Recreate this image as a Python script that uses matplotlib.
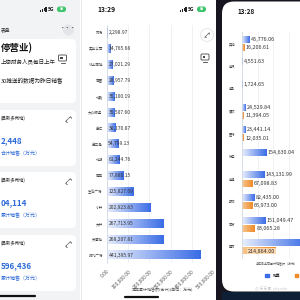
import numpy as np
import matplotlib
matplotlib.use("Agg")
import matplotlib.pyplot as plt
from matplotlib.patches import Rectangle, FancyBboxPatch, Circle, Patch
from matplotlib.colors import LinearSegmentedColormap

plt.rcParams['font.family'] = ['Noto Sans CJK SC', 'DejaVu Sans']

W = H = 300

# 中间截图: 各门店本年累计销售额 (万元)
store_names = ['市场', '实业公司', '线上商城', '商圈', '北路', '大众服务', '金汇', '金三角',
               '北湖', '南岸', '生活广场', '小井', '大井', '天港城', '时代广场']
store_sales = [2298.97, 14765.68, 27021.29, 28957.79, 35100.19, 35507.60, 38170.87, 54799.13,
               61244.76, 77880.15, 125827.69, 202923.83, 267713.95, 268207.81, 441395.97]
store_ticks = [0, 100000, 200000, 300000, 400000, 500000]

# 右边截图: 各业态本年累计销售额 (万元)
format_names = ['其他', '电讯', '电影', '餐饮', '医药', '珠宝', '电器', '服饰', '百货', '超市']
format_sales = [45776.06, 4551.63, 1724.65, 24529.84, 23441.14, 154630.04, 143131.99,
                82435.00, 151049.47, 420000.00]
format_other = [16206.61, 0, 0, 11394.05, 12035.01, 0, 67098.83, 65973.00, 83065.28, 214864.00]
format_ticks = [0, 100000, 200000, 300000, 400000, 500000]

# 左边截图: 卡片
card_titles = ['(昌新多两地)', '(昌新多两地)', '(昌新多两地)']
card_values = ['2,448', '04,114', '596,436']
card_units = ['合计销售（万元）', '累计销售（万元）', '累计销售（万元）']

BLUE_TXT = '#2f6bd8'
blue_cmap = LinearSegmentedColormap.from_list('blue_grad', ['#e8eefc', '#3b6de6'])
orange_cmap = LinearSegmentedColormap.from_list('orange_grad', ['#f8c890', '#ee8a2a'])


def px_axes(fig, x0, y0, x1, y1):
    return fig.add_axes([x0 / W, 1 - y1 / H, (x1 - x0) / W, (y1 - y0) / H])


def gradient_bars(ax, bars, cmap):
    grad = np.linspace(0, 1, 64).reshape(1, -1)
    for b in bars:
        x0, y0, w, h = b.get_x(), b.get_y(), b.get_width(), b.get_height()
        if w <= 0:
            continue
        ax.imshow(grad, extent=[x0, x0 + w, y0, y0 + h], cmap=cmap,
                  aspect='auto', zorder=2, interpolation='bilinear')


def status_bar(bg, x, y):
    for k in range(4):
        bg.add_patch(Rectangle((x + k * 1.8, y + 2 - k * 0.9), 1.1, 1.5 + k * 0.9,
                               color='#222', lw=0))
    bg.text(x + 8, y + 1.5, '5G', fontsize=3.6, fontweight='bold', color='#222', va='center')
    bg.add_patch(FancyBboxPatch((x + 17, y - 1.5), 9, 5.5,
                                boxstyle='round,pad=0,rounding_size=2.5', color='#3ec46d', lw=0))
    bg.text(x + 21.5, y + 1.3, '88', fontsize=2.6, color='white', ha='center', va='center',
            fontweight='bold')


def expand_icon(bg, x, y, s=2.5):
    bg.plot([x - s, x + s], [y + s, y - s], color='#666', lw=0.5)
    bg.plot([x + s - 1.3, x + s, x + s], [y - s, y - s, y - s + 1.3], color='#666', lw=0.5)
    bg.plot([x - s, x - s, x - s + 1.3], [y + s - 1.3, y + s, y + s], color='#666', lw=0.5)


def screen_icon(bg, x, y):
    bg.add_patch(FancyBboxPatch((x, y), 8, 6, boxstyle='round,pad=0,rounding_size=1',
                                fill=False, ec='#444', lw=0.6))
    bg.plot([x + 2, x + 6], [y + 8, y + 8], color='#444', lw=0.6)
    bg.add_patch(Rectangle((x + 1.5, y + 2), 2.5, 2, color='#444', lw=0))


fig = plt.figure(figsize=(3, 3), dpi=100)
bg = fig.add_axes([0, 0, 1, 1])
bg.set_xlim(0, W)
bg.set_ylim(H, 0)
bg.axis('off')

# ---- 左边: 卡片页 ----
bg.add_patch(Rectangle((0, 0), 80, 300, color='#f2f3f5', lw=0))
status_bar(bg, 40, 8)
bg.text(0.5, 30, '表盘', fontsize=3.4, color='#333', va='center')
bg.add_patch(Circle((68.5, 30), 5.5, color='#e4e5e8', lw=0))
bg.text(68.5, 29.5, '···', fontsize=4, color='#333', ha='center', va='center')

bg.add_patch(FancyBboxPatch((-10, 39), 86, 64, boxstyle='round,pad=0,rounding_size=5',
                            color='white', lw=0))
bg.text(0.5, 48, '停营业)', fontsize=6.8, fontweight='bold', color='#111', va='center')
screen_icon(bg, 58.5, 55)
bg.text(0.5, 62, '上您财务人员每日上午', fontsize=4, color='#222', va='center')
bg.text(0.5, 81, '30推送的数据为昨日销售', fontsize=4.1, color='#222', va='center')

card_tops = [110, 172, 235]
for top, title, value, unit in zip(card_tops, card_titles, card_values, card_units):
    bg.add_patch(FancyBboxPatch((-10, top), 86, 56, boxstyle='round,pad=0,rounding_size=5',
                                color='white', lw=0))
    bg.text(0.5, top + 8.5, title, fontsize=3.2, color='#333', va='center')
    expand_icon(bg, 68, top + 9)
    bg.text(0.5, top + 31, value, fontsize=5.8, fontweight='bold', color=BLUE_TXT, va='center')
    bg.text(0.5, top + 44, unit, fontsize=3.6, color=BLUE_TXT, va='center')
bg.plot([0, 35], [296, 296], color='#111', lw=1.6, solid_capstyle='round')

# ---- 中间: 门店条形图 ----
bg.add_patch(Rectangle((80, 0), 137, 300, color='white', lw=0))
bg.plot([80.5, 80.5], [0, 300], color='#e2e3e6', lw=0.6)
bg.text(106, 9.5, '13:29', fontsize=4.8, fontweight='bold', color='#111', ha='center', va='center')
status_bar(bg, 180, 8)
bg.add_patch(Circle((207, 35), 6.5, fc='white', ec='#dddddd', lw=0.5))
expand_icon(bg, 207, 35, 2.3)
screen_icon(bg, 201, 54)
bg.text(163, 290, '本年累计销售额(合计)(单位：万元)', fontsize=2.9, color='#555',
        ha='center', va='center')
bg.plot([125, 158], [296.5, 296.5], color='#111', lw=1.6, solid_capstyle='round')

# ---- 右边: 业态条形图 ----
bg.add_patch(Rectangle((216, 0), 84, 300, color='#17151f', lw=0))
bg.add_patch(Rectangle((222, 292), 78, 8, color='#0f1f35', lw=0))
bg.add_patch(FancyBboxPatch((222, 1.5), 100, 290, boxstyle='round,pad=0,rounding_size=12',
                            color='white', lw=0))
bg.text(246, 11, '13:28', fontsize=4.6, fontweight='bold', color='#111', ha='center', va='center')
bg.text(256, 263, '本年各业态累计销售额（万元）', fontsize=2.2, color='#555', va='center')
bg.text(255, 288, '@ 东东哥  zhaoshi', fontsize=2.8, color='#c8c8cc', va='center')

# 中间图
ax1 = px_axes(fig, 107, 25, 213, 263)
ax1.patch.set_alpha(0)
y1 = np.arange(len(store_names))
bars1 = ax1.barh(y1, store_sales, height=0.55, color='none')
gradient_bars(ax1, bars1, blue_cmap)
for i, v in enumerate(store_sales):
    ax1.annotate(f'{v:,.2f}', (0, i), xytext=(1, 0), textcoords='offset points',
                 fontsize=3.6, color='#333', va='center', zorder=4)
ax1.set_xlim(0, 500000)
ax1.set_ylim(len(store_names) - 0.5, -0.5)
ax1.set_yticks(y1)
ax1.set_yticklabels(store_names, fontsize=2.6, color='#444')
ax1.set_xticks(store_ticks)
ax1.set_xticklabels([f'{v:,.2f}' for v in store_ticks], rotation=45, ha='right', va='top',
                    rotation_mode='anchor', fontsize=3.5, color='#555')
ax1.tick_params(length=0, pad=3)
ax1.tick_params(axis='x', pad=4)
ax1.grid(axis='x', color='#ececec', lw=0.5)
ax1.set_axisbelow(True)
for s in ['top', 'right', 'bottom']:
    ax1.spines[s].set_visible(False)
ax1.spines['left'].set_color('#cdd5e3')
ax1.spines['left'].set_linewidth(0.5)

# 右边图 (超出屏幕的部分被截掉)
ax2 = px_axes(fig, 242, 32.2, 320, 258.2)
ax2.patch.set_alpha(0)
y2 = np.arange(len(format_names))
off = 0.185
bars_s = ax2.barh(y2 - off, format_sales, height=0.3, color='none')
bars_o = ax2.barh(y2 + off, format_other, height=0.3, color='none')
gradient_bars(ax2, bars_s, blue_cmap)
gradient_bars(ax2, bars_o, orange_cmap)
visible_max = 330000
for i, (vs, vo) in enumerate(zip(format_sales, format_other)):
    if vs < visible_max:
        ax2.annotate(f'{vs:,.2f}', (vs, i - off), xytext=(1, 0), textcoords='offset points',
                     fontsize=3.9, color='#333', va='center', zorder=4)
    if vo > 200000:
        ax2.annotate(f'{vo:,.2f}', (vo, i + off), xytext=(-0.3, 0), textcoords='offset points',
                     fontsize=3.9, color='#333', va='center', ha='right', zorder=4,
                     bbox=dict(boxstyle='square,pad=0.1', fc='#fcd7ae', ec='none'))
    elif vo > 0:
        ax2.annotate(f'{vo:,.2f}', (vo, i + off), xytext=(1, 0), textcoords='offset points',
                     fontsize=3.9, color='#333', va='center', zorder=4)
ax2.set_xlim(0, 500000)
ax2.set_ylim(len(format_names) - 0.5, -0.5)
ax2.set_yticks(y2)
ax2.set_yticklabels(format_names, fontsize=2.3, color='#444')
ax2.set_xticks(format_ticks)
ax2.set_xticklabels([])
ax2.tick_params(length=0, pad=5)
ax2.grid(axis='x', color='#ececec', lw=0.5)
ax2.set_axisbelow(True)
for s in ['top', 'right', 'bottom']:
    ax2.spines[s].set_visible(False)
ax2.spines['left'].set_color('#cdd5e3')
ax2.spines['left'].set_linewidth(0.5)

# 图例: 第二项的文字在截图右边被截掉, 只剩色块
ax2.legend(handles=[Patch(color='#3b6de6', label='销售'), Patch(color='#ee8a2a', label=' ')],
           loc='center left', bbox_to_anchor=(265 / W, 1 - 276 / H), bbox_transform=fig.transFigure,
           ncol=2, frameon=False, fontsize=2.8, handlelength=0.9, handleheight=0.9,
           handletextpad=1.2, columnspacing=3.5, borderpad=0, borderaxespad=0)

fig.savefig('out.png', dpi=100)
